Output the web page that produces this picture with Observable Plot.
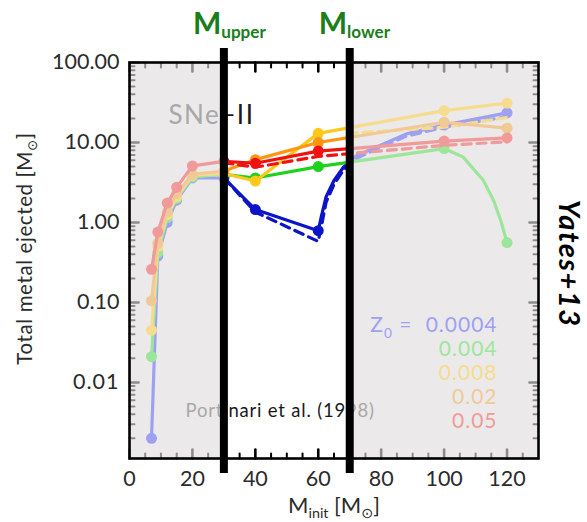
<!DOCTYPE html>
<html><head><meta charset="utf-8">
<script src="https://cdn.jsdelivr.net/npm/d3@7"></script>
<script src="https://cdn.jsdelivr.net/npm/@observablehq/plot@0.6"></script>
<style>
body{margin:0;background:white;}
#wrap{position:relative;width:587px;height:522px;}
#wrap svg{position:absolute;left:0;top:0;}
</style></head><body><div id="wrap"></div>
<script>
// ---- data (Portinari et al. 1998 SNe-II yields) ----
const MASS = [7, 9, 12, 15, 20, 30, 40, 60, 100, 120];
const Z_LABELS = ["0.0004", "0.004", "0.008", "0.02", "0.05"];
const Z0004 = [0.002, 0.38, 1.0, 1.9, 3.6, 3.6, 1.45, 0.79, 16.5, 23.5];
const Z004  = [0.021, 0.42, 1.15, 2.0, 3.7, 4.0, 3.6, 5.0, 8.4, 0.56];
const Z008  = [0.045, 0.5, 1.25, 2.1, 3.9, 4.1, 3.3, 13.0, 25, 31];
const Z02   = [0.105, 0.55, 1.35, 2.3, 4.0, 4.4, 6.1, 10.0, 17.9, 15.1];
const Z05   = [0.26, 0.76, 1.75, 2.75, 5.1, 5.8, 5.5, 7.8, 10.4, 11.4];
// extra vertices of the drawn curves (no markers)
const BLUE_CURVE_MASS = [61, 62.5, 65, 68, 72, 80, 88];
const BLUE_CURVE      = [1.2, 2.1, 3.35, 4.9, 6.8, 9.3, 12.8];
const GREEN_CURVE_MASS = [106, 112.5, 115.7, 118];
const GREEN_CURVE      = [6.6, 3.35, 1.9, 1.06];
// dashed variants
const BLUE_DASH_MASS = [30, 40, 60, 61, 62.5, 65, 68, 72, 80, 88, 100, 120];
const BLUE_DASH      = [3.6, 1.35, 0.58, 0.9, 1.8, 3.0, 4.5, 6.3, 8.8, 12, 15.5, 21];
const RED_DASH_MASS = [30, 40, 60, 100, 120];
const RED_DASH      = [5.6, 4.9, 6.7, 9.2, 10.2];
const YEL_DASH_MASS = [60, 100, 120];
const YEL_DASH      = [12.3, 15.5, 20.5];
// axis ticks
const X_MAJOR = [0, 20, 40, 60, 80, 100, 120];
const X_MINOR = [5, 10, 15, 25, 30, 35, 45, 50, 55, 65, 70, 75, 85, 90, 95, 105, 110, 115, 125];
const Y_MAJOR = [0.01, 0.1, 1, 10, 100];
const Y_MINOR_MULT = [2, 3, 4, 5, 6, 7, 8, 9];
const Y_MINOR = [0.001, 0.01, 0.1, 1, 10].flatMap(d => Y_MINOR_MULT.map(k => d * k)).filter(v => v > 0.00112);
const M_UPPER = 30, M_LOWER = 70;
const XMIN = 0, XMAX = 130;
const YMIN = 0.00112, YMAX = 100;

const rows = (ms, vs) => ms.map((m, i) => ({m, v: vs[i]}));
const lineRows = (vs, em = [], ev = []) => rows(MASS, vs).concat(rows(em, ev)).sort((a, b) => a.m - b.m);

const SERIES = [
  {label: Z_LABELS[0], pale: "#9ea0f2", bright: "#0b14c8", solid: lineRows(Z0004, BLUE_CURVE_MASS, BLUE_CURVE), dots: rows(MASS, Z0004), dash: rows(BLUE_DASH_MASS, BLUE_DASH)},
  {label: Z_LABELS[1], pale: "#9ce69c", bright: "#1cd21c", solid: lineRows(Z004, GREEN_CURVE_MASS, GREEN_CURVE), dots: rows(MASS, Z004)},
  {label: Z_LABELS[2], pale: "#f6dc8e", bright: "#ffc81a", solid: lineRows(Z008), dots: rows(MASS, Z008), dash: rows(YEL_DASH_MASS, YEL_DASH), dashPaleOnly: true},
  {label: Z_LABELS[3], pale: "#f1c996", bright: "#ff9612", solid: lineRows(Z02), dots: rows(MASS, Z02)},
  {label: Z_LABELS[4], pale: "#f09a9a", bright: "#f01212", solid: lineRows(Z05), dots: rows(MASS, Z05), dash: rows(RED_DASH_MASS, RED_DASH)}
];

const W = 587, H = 522;
const M = {left: 129, right: 49, top: 62, bottom: 64};
const FW = W - M.left - M.right, FH = H - M.top - M.bottom;
const FONT = "Lato, 'DejaVu Sans', sans-serif";

function layer(marks, noAxes) {
  return Plot.plot({
    width: W, height: H,
    marginLeft: M.left, marginRight: M.right, marginTop: M.top, marginBottom: M.bottom,
    style: {background: "transparent", overflow: "visible", fontFamily: FONT},
    x: {domain: [XMIN, XMAX], label: null, ...(noAxes ? {axis: null} : {})},
    y: {type: "log", domain: [YMIN, YMAX], label: null, ...(noAxes ? {axis: null} : {})},
    marks
  });
}

// inward ticks drawn as two-vertex line segments (pixel length converted to data units)
function tickRows(len) {
  const dx = len * (XMAX - XMIN) / FW;
  const fy = Math.pow(10, len * Math.log10(YMAX / YMIN) / FH);
  return {
    y: (vals) => vals.flatMap((v, i) => [
      {id: "L" + i, m: XMIN, v}, {id: "L" + i, m: XMIN + dx, v},
      {id: "R" + i, m: XMAX, v}, {id: "R" + i, m: XMAX - dx, v}
    ]),
    x: (vals) => vals.flatMap((m, i) => [
      {id: "B" + i, m, v: YMIN}, {id: "B" + i, m, v: YMIN * fy},
      {id: "T" + i, m, v: YMAX}, {id: "T" + i, m, v: YMAX / fy}
    ])
  };
}
function tickMarks() {
  const inWin = d => d > M_UPPER && d < M_LOWER;
  const grey = "#8c8c8c";
  const out = [];
  for (const [len, sw, ydata, xdata] of [[5, 2, Y_MINOR, X_MINOR], [9, 2.6, Y_MAJOR, X_MAJOR]]) {
    const t = tickRows(len);
    out.push(Plot.line(t.y(ydata), {x: "m", y: "v", z: "id", stroke: grey, strokeWidth: sw}));
    out.push(Plot.line(t.x(xdata.filter(d => !inWin(d))), {x: "m", y: "v", z: "id", stroke: grey, strokeWidth: sw}));
    out.push(Plot.line(t.x(xdata.filter(inWin)), {x: "m", y: "v", z: "id", stroke: "#000", strokeWidth: sw}));
  }
  return out;
}

function seriesMarks(key, withPaleOnlyDash) {
  const out = [];
  for (const s of SERIES) {
    out.push(Plot.line(s.solid, {x: "m", y: "v", stroke: s[key], strokeWidth: 3.2}));
    if (s.dash && (withPaleOnlyDash || !s.dashPaleOnly))
      out.push(Plot.line(s.dash, {x: "m", y: "v", stroke: s[key], strokeWidth: 3.2, strokeDasharray: "9,6"}));
    out.push(Plot.dot(s.dots, {x: "m", y: "v", fill: s[key], r: 5.5}));
  }
  return out;
}

function noteMarks(color) {
  return [
    Plot.text(["SNe\u2212II"], {frameAnchor: "top-left", dx: 39, dy: 43, textAnchor: "start", fontSize: 26, fill: color}),
    Plot.text(["Portinari et al. (1998)"], {frameAnchor: "bottom-left", dx: 56, dy: -42, textAnchor: "start", fontSize: 18.5, fill: color})
  ];
}

// ---- base (pale) layer ----
const baseLayer = layer([
  Plot.frame({fill: "#ece9ea"}),
  Plot.axisY(Y_MAJOR, {anchor: "left", tickSize: 0, tickPadding: 10, tickFormat: d3.format(".2f"), fontSize: 21.5, color: "#2b2b2b", label: null}),
  Plot.axisX(X_MAJOR, {anchor: "bottom", tickSize: 0, tickPadding: 12, fontSize: 21.5, color: "#2b2b2b", label: null}),
  ...seriesMarks("pale", true),
  ...noteMarks("#a8a8a8"),
  Plot.text(["Z_{0} ="], {frameAnchor: "top-right", dx: -126, dy: 255, textAnchor: "end", fontSize: 21, fill: SERIES[0].pale}),
  ...SERIES.map((s, i) => Plot.text([s.label], {frameAnchor: "top-right", dx: -41, dy: 255 + 24 * i, textAnchor: "end", fontSize: 21, fill: s.pale})),
  Plot.text(["Total metal ejected [M_{\u2299}]"], {frameAnchor: "left", textAnchor: "middle", dx: -104, dy: -12, rotate: -90, fontSize: 20.5, fill: "#2b2b2b"}),
  Plot.text(["M_{init} [M_{\u2299}]"], {frameAnchor: "bottom", textAnchor: "middle", dy: 54, fontSize: 22, fill: "#2b2b2b"}),
  Plot.text(["Yates+13"], {frameAnchor: "right", textAnchor: "middle", dx: 30, dy: 3, rotate: 90, fontSize: 29, fontWeight: "bold", fontStyle: "italic", fill: "#000"})
]);

// ---- bright window layer (clipped to M_upper..M_lower) ----
const brightLayer = layer([
  Plot.frame({fill: "white"}),
  ...seriesMarks("bright", false),
  ...noteMarks("#1a1a1a")
], true);

// ---- top layer: ticks, frame, bars, labels ----
const topLayer = layer([
  ...tickMarks(),
  Plot.frame({stroke: "#000", strokeWidth: 2.6}),
  Plot.ruleX([M_UPPER, M_LOWER], {stroke: "#000", strokeWidth: 8, insetTop: -14, insetBottom: -15}),
  Plot.text([M_UPPER], {x: d => d, text: () => "M_{upper}", frameAnchor: "top", dx: -31, dy: -29, lineAnchor: "bottom", textAnchor: "start", fontSize: 30, fontWeight: "bold", fill: "#1b7d1b"}),
  Plot.text([M_LOWER], {x: d => d, text: () => "M_{lower}", frameAnchor: "top", dx: -31, dy: -29, lineAnchor: "bottom", textAnchor: "start", fontSize: 30, fontWeight: "bold", fill: "#1b7d1b"})
], true);

function subscriptify(svg, k = 0.65, s = 0.25) {
  const ns = "http://www.w3.org/2000/svg";
  svg.querySelectorAll("text").forEach(t => {
    const str = t.textContent;
    if (!str.includes("_{")) return;
    t.textContent = "";
    let prevSub = false;
    for (const p of str.split(/(_\{[^}]*\})/)) {
      if (!p) continue;
      const ts = document.createElementNS(ns, "tspan");
      if (p.startsWith("_{")) {
        ts.textContent = p.slice(2, -1);
        ts.setAttribute("font-size", k + "em");
        ts.setAttribute("dy", (s / k) + "em");
        prevSub = true;
      } else {
        ts.textContent = p;
        if (prevSub) ts.setAttribute("dy", (-s) + "em");
        prevSub = false;
      }
      t.appendChild(ts);
    }
  });
}
function spacing(svg, map) {
  svg.querySelectorAll("text").forEach(t => {
    for (const [key, px] of map) if (t.textContent.startsWith(key)) t.setAttribute("letter-spacing", px);
  });
}
subscriptify(baseLayer);
subscriptify(brightLayer);
subscriptify(topLayer, 0.57, 0.16);
const SPACING = [["SNe", 1.5], ["Portinari", 0.8], ["Total", 0.6], ["Yates", 1.5], ["Z", 1], ["0.0", 1]];
spacing(baseLayer, SPACING);
spacing(brightLayer, SPACING);

const xs = baseLayer.scale("x"), ys = baseLayer.scale("y");
const x1 = xs.apply(M_UPPER), x2 = xs.apply(M_LOWER);
const yT = ys.apply(YMAX), yB = ys.apply(YMIN);
brightLayer.style.clipPath = `inset(${yT}px ${W - x2}px ${H - yB}px ${x1}px)`;

document.getElementById("wrap").append(baseLayer, brightLayer, topLayer);
</script></body></html>
